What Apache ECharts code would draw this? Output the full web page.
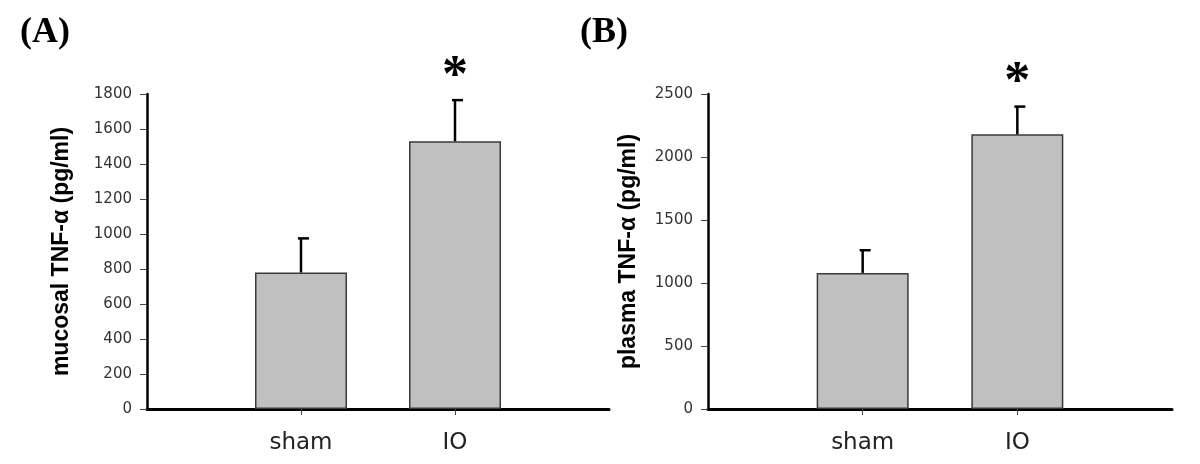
<!DOCTYPE html>
<html>
<head>
<meta charset="utf-8">
<script src="https://cdn.jsdelivr.net/npm/echarts@6/dist/echarts.min.js"></script>
<style>
  html, body { margin: 0; padding: 0; background: #ffffff; }
  #chart { width: 1200px; height: 464px; }
</style>
</head>
<body>
<div id="chart"></div>
<script>
// ---- data ----
const categories = ['', 'sham', 'IO', ''];
const mucosalMean = [null, 780, 1530, null];
const mucosalErr  = [null, 195, 235, null];
const plasmaMean  = [null, 1080, 2180, null];
const plasmaErr   = [null, 180, 220, null];
const significant = [false, false, true, false];
const panelTitles = ['(A)', '(B)'];
const yNames = ['mucosal TNF-\u03b1 (pg/ml)', 'plasma TNF-\u03b1 (pg/ml)'];
const yMaxA = 1800, yStepA = 200;
const yMaxB = 2500, yStepB = 500;

function errData(means, errs) {
  const out = [];
  means.forEach((m, i) => {
    if (m != null) out.push([i, m, errs[i], significant[i] ? 1 : 0]);
  });
  return out;
}

function errorRender(params, api) {
  const xi = api.value(0), m = api.value(1), e = api.value(2), sig = api.value(3);
  const base = api.coord([xi, m]);
  const top = api.coord([xi, m + e]);
  const children = [
    { type: 'line', shape: { x1: base[0], y1: base[1], x2: top[0], y2: top[1] },
      style: { stroke: '#000', lineWidth: 2.5 } },
    { type: 'line', shape: { x1: top[0] - 3, y1: top[1], x2: top[0] + 8, y2: top[1] },
      style: { stroke: '#000', lineWidth: 2.5 } }
  ];
  if (sig) {
    children.push({ type: 'text', style: {
      text: '*', x: top[0], y: top[1] - 23, align: 'center', verticalAlign: 'middle',
      fontSize: 52, fontWeight: 'bold', fontFamily: '"Liberation Serif", serif', fill: '#000'
    }});
  }
  return { type: 'group', children };
}

const tickFont = { fontFamily: '"DejaVu Sans", sans-serif', fontSize: 15, color: '#333' };

function xAxis(gi) {
  return {
    type: 'category', gridIndex: gi, data: categories, boundaryGap: false,
    axisLine: { show: true, lineStyle: { color: '#000', width: 3 } },
    axisTick: { show: true, length: 6, interval: (i, v) => v !== '', lineStyle: { color: '#444', width: 1 } },
    axisLabel: { interval: 0, margin: 23, fontFamily: '"DejaVu Sans", sans-serif', fontSize: 23, color: '#222' },
    splitLine: { show: false }
  };
}
function yAxis(gi, max, step, name, gap) {
  return {
    type: 'value', gridIndex: gi, min: 0, max: max, interval: step,
    name: name, nameLocation: 'middle', nameGap: gap, nameRotate: 90,
    nameTextStyle: { fontFamily: '"Liberation Sans", Arial, sans-serif', fontWeight: 'bold', fontSize: 23, color: '#000' },
    axisLine: { show: true, lineStyle: { color: '#000', width: 2.5 } },
    axisTick: { show: true, length: 7, inside: false, lineStyle: { color: '#444', width: 1 } },
    axisLabel: Object.assign({ margin: 15, formatter: v => String(v) }, tickFont),
    splitLine: { show: false }
  };
}

const barStyle = { color: '#c0c0c0', borderColor: '#3a3a3a', borderWidth: 1.5 };
const titleStyle = { fontFamily: '"Liberation Serif", serif', fontWeight: 'bold', fontSize: 36, color: '#000' };

const chart = echarts.init(document.getElementById('chart'), null, { renderer: 'canvas' });
chart.setOption({
  backgroundColor: '#ffffff',
  animation: false,
  title: [
    { text: panelTitles[0], left: 20, top: 15, padding: 0, textStyle: titleStyle },
    { text: panelTitles[1], left: 580, top: 15, padding: 0, textStyle: titleStyle }
  ],
  grid: [
    { left: 147, top: 94, width: 462, height: 315, containLabel: false },
    { left: 708, top: 94, width: 464, height: 315, containLabel: false }
  ],
  xAxis: [xAxis(0), xAxis(1)],
  yAxis: [
    yAxis(0, yMaxA, yStepA, yNames[0], 74),
    yAxis(1, yMaxB, yStepB, yNames[1], 68)
  ],
  series: [
    { type: 'bar', xAxisIndex: 0, yAxisIndex: 0, data: mucosalMean, barWidth: 92, itemStyle: barStyle },
    { type: 'custom', xAxisIndex: 0, yAxisIndex: 0, data: errData(mucosalMean, mucosalErr), renderItem: errorRender, z: 5 },
    { type: 'bar', xAxisIndex: 1, yAxisIndex: 1, data: plasmaMean, barWidth: 92, itemStyle: barStyle },
    { type: 'custom', xAxisIndex: 1, yAxisIndex: 1, data: errData(plasmaMean, plasmaErr), renderItem: errorRender, z: 5 }
  ]
});
</script>
</body>
</html>
